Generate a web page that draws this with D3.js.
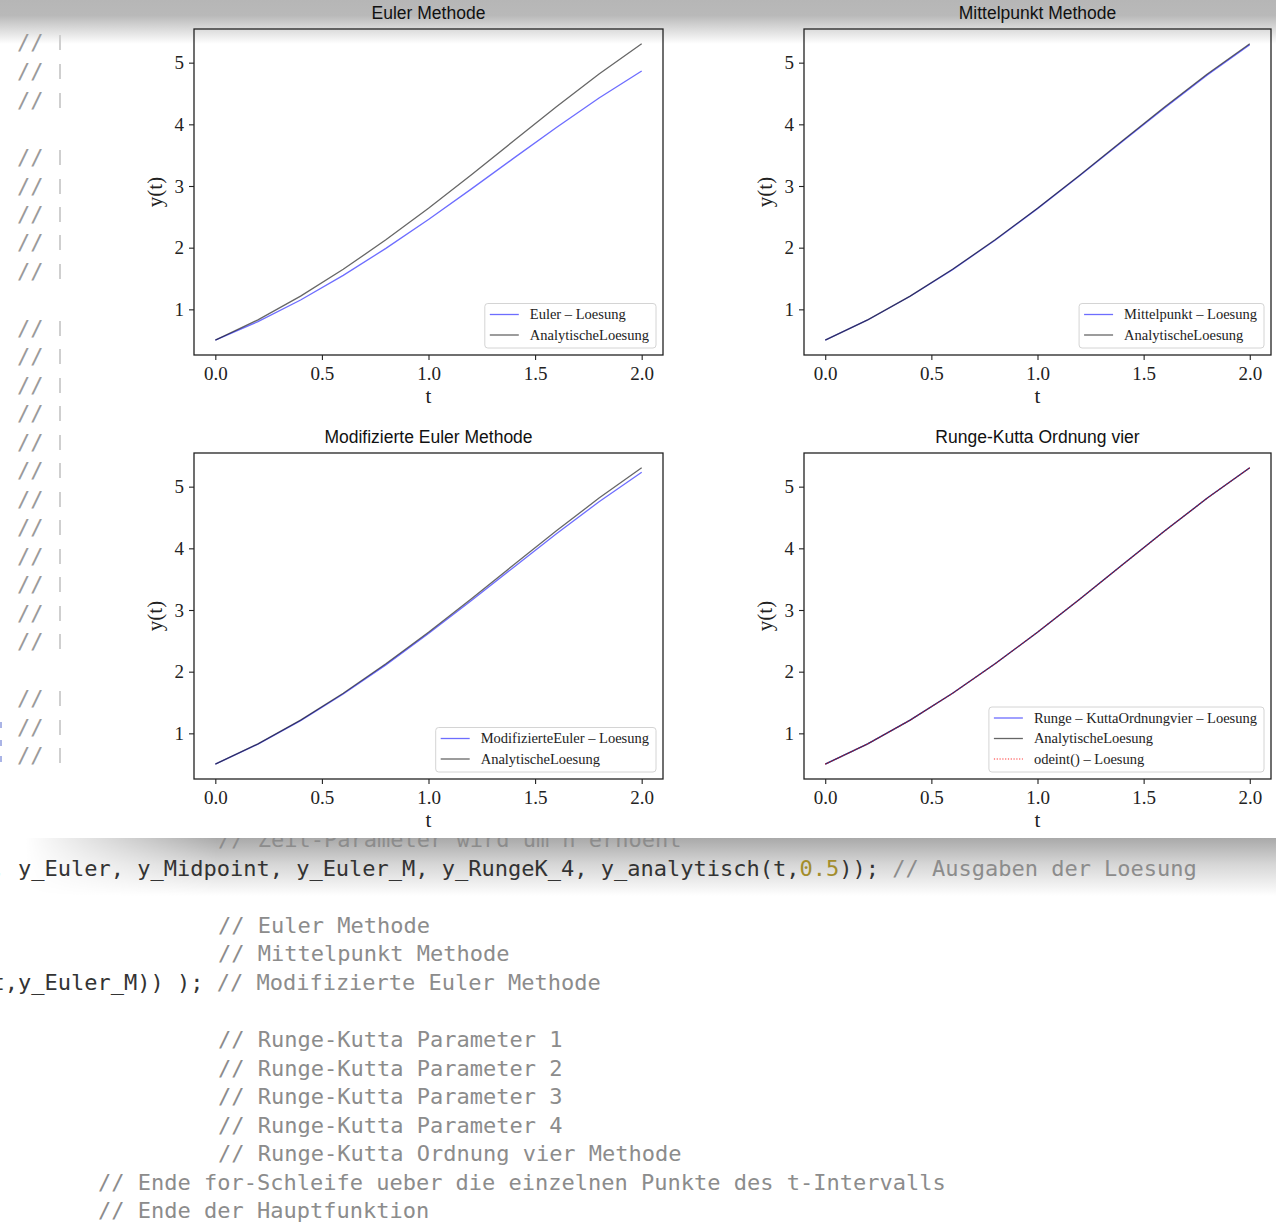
<!DOCTYPE html>
<html>
<head>
<meta charset="utf-8">
<script src="https://cdn.jsdelivr.net/npm/d3@7"></script>
<style>
  html, body { margin: 0; padding: 0; background: #fff; }
  svg { display: block; }
</style>
</head>
<body>
<svg id="chart" width="1276" height="1225"></svg>
<script>
// ---------------- data ----------------
const tValues   = [0.0, 0.2, 0.4, 0.6, 0.8, 1.0, 1.2, 1.4, 1.6, 1.8, 2.0];
const yAnalytic = [0.5, 0.8293, 1.2141, 1.6489, 2.1272, 2.6409, 3.1799, 3.7324, 4.2835, 4.8152, 5.3055];
const yEuler    = [0.5, 0.8000, 1.1520, 1.5504, 1.9885, 2.4582, 2.9498, 3.4518, 3.9501, 4.4282, 4.8658];
const yMidpoint = [0.5, 0.8280, 1.2114, 1.6447, 2.1213, 2.6332, 3.1705, 3.7212, 4.2706, 4.8010, 5.2904];
const yEulerM   = [0.5, 0.8260, 1.2069, 1.6372, 2.1102, 2.6177, 3.1496, 3.6937, 4.2351, 4.7556, 5.2331];
const yRK4      = [0.5, 0.8293, 1.2141, 1.6489, 2.1272, 2.6408, 3.1799, 3.7323, 4.2834, 4.8151, 5.3054];
const yOdeint   = [0.5, 0.8293, 1.2141, 1.6489, 2.1272, 2.6409, 3.1799, 3.7324, 4.2835, 4.8152, 5.3055];

const panelTitles = ["Euler Methode", "Mittelpunkt Methode", "Modifizierte Euler Methode", "Runge-Kutta Ordnung vier"];
const xTickValues = [0.0, 0.5, 1.0, 1.5, 2.0];
const yTickValues = [1, 2, 3, 4, 5];
const xLabel = "t";
const yLabel = "y(t)";

const legendEuler = ["Euler – Loesung", "AnalytischeLoesung"];
const legendMid   = ["Mittelpunkt – Loesung", "AnalytischeLoesung"];
const legendModE  = ["ModifizierteEuler – Loesung", "AnalytischeLoesung"];
const legendRK4   = ["Runge – KuttaOrdnungvier – Loesung", "AnalytischeLoesung", "odeint() – Loesung"];

// code editor text in background
const codeLeftRows = [42, 71, 100, 157, 186, 214, 242, 271, 328, 356, 385, 413, 442, 470, 499, 527, 556, 584, 613, 641, 698, 727, 755];
const codeLines = [
  {c: 839.5, x: 218, parts: [["cm", "// Zeit-Parameter wird um h erhoeht"]], clip: true},
  {c: 868, x: -8.5, parts: [["cd", ", y_Euler, y_Midpoint, y_Euler_M, y_RungeK_4, y_analytisch(t,"], ["nm", "0.5"], ["cd", "));"], ["cm", " // Ausgaben der Loesung"]]},
  {c: 925, x: 218, parts: [["cm", "// Euler Methode"]]},
  {c: 953, x: 218, parts: [["cm", "// Mittelpunkt Methode"]]},
  {c: 982, x: -8.5, parts: [["cd", "t,y_Euler_M)) ); "], ["cm", "// Modifizierte Euler Methode"]]},
  {c: 1039, x: 218, parts: [["cm", "// Runge-Kutta Parameter 1"]]},
  {c: 1068, x: 218, parts: [["cm", "// Runge-Kutta Parameter 2"]]},
  {c: 1096, x: 218, parts: [["cm", "// Runge-Kutta Parameter 3"]]},
  {c: 1125, x: 218, parts: [["cm", "// Runge-Kutta Parameter 4"]]},
  {c: 1153, x: 218, parts: [["cm", "// Runge-Kutta Ordnung vier Methode"]]},
  {c: 1182, x: 98, parts: [["cm", "// Ende for-Schleife ueber die einzelnen Punkte des t-Intervalls"]]},
  {c: 1210, x: 98, parts: [["cm", "// Ende der Hauptfunktion"]]}
];

// ---------------- drawing ----------------
const svg = d3.select("#chart");
const defs = svg.append("defs");

// top shadow band
const gTop = defs.append("linearGradient").attr("id", "gTop").attr("x1", 0).attr("x2", 0).attr("y1", 0).attr("y2", 1);
gTop.append("stop").attr("offset", 0).attr("stop-color", "#b6b6b6");
gTop.append("stop").attr("offset", 0.35).attr("stop-color", "#b9b9b9");
gTop.append("stop").attr("offset", 1).attr("stop-color", "#ffffff");
svg.append("rect").attr("x", 0).attr("y", 0).attr("width", 1276).attr("height", 44).attr("fill", "url(#gTop)");

// bottom shadow (below figure window)
const gBot = defs.append("linearGradient").attr("id", "gBot").attr("x1", 0).attr("x2", 0).attr("y1", 0).attr("y2", 1);
gBot.append("stop").attr("offset", 0).attr("stop-color", "#a9a9a9");
gBot.append("stop").attr("offset", 0.45).attr("stop-color", "#d6d6d6");
gBot.append("stop").attr("offset", 1).attr("stop-color", "#ffffff");
const gMaskH = defs.append("linearGradient").attr("id", "gMaskH").attr("x1", 0).attr("x2", 1).attr("y1", 0).attr("y2", 0);
gMaskH.append("stop").attr("offset", 0.02).attr("stop-color", "#000");
gMaskH.append("stop").attr("offset", 0.17).attr("stop-color", "#fff");
gMaskH.append("stop").attr("offset", 1).attr("stop-color", "#fff");
const mask = defs.append("mask").attr("id", "mBot").attr("maskUnits", "userSpaceOnUse")
  .attr("x", 0).attr("y", 838).attr("width", 1276).attr("height", 60);
mask.append("rect").attr("x", 0).attr("y", 838).attr("width", 1276).attr("height", 60).attr("fill", "url(#gMaskH)");
svg.append("rect").attr("x", 0).attr("y", 838).attr("width", 1276).attr("height", 58)
  .attr("fill", "url(#gBot)").attr("mask", "url(#mBot)");

defs.append("clipPath").attr("id", "clipBelow").append("rect")
  .attr("x", 0).attr("y", 838).attr("width", 1276).attr("height", 400);

// code text
const monoFont = "'DejaVu Sans Mono', 'Liberation Mono', monospace";
const colors = {cd: "#333333", cm: "#8c8c8c", nm: "#a38d2c"};
const codeG = svg.append("g").attr("font-family", monoFont).attr("font-size", 22);
codeLines.forEach(l => {
  const t = codeG.append("text").attr("x", l.x).attr("y", l.c + 7.5).attr("xml:space", "preserve").style("white-space", "pre");
  if (l.clip) t.attr("clip-path", "url(#clipBelow)");
  l.parts.forEach(p => t.append("tspan").attr("fill", colors[p[0]]).text(p[1]));
});
// left code column
const leftG = svg.append("g");
codeLeftRows.forEach(r => {
  leftG.append("text").attr("x", 17).attr("y", r + 7.5).attr("font-family", monoFont).attr("font-size", 22)
    .attr("fill", "#9a9a9a").text("//");
  leftG.append("rect").attr("x", 59).attr("y", r - 7).attr("width", 2).attr("height", 15).attr("fill", "#cfcfcf");
});
[722, 740, 756].forEach(r => leftG.append("rect").attr("x", 0).attr("y", r).attr("width", 2).attr("height", 6).attr("fill", "#aab4e6"));

// panels
const serif = "'Liberation Serif', 'DejaVu Serif', serif";
const sans = "'Liberation Sans', Arial, sans-serif";

const panels = [
  {title: panelTitles[0], left: 194, right: 663, top: 29, bottom: 355,
   series: [{y: yEuler, label: legendEuler[0], color: "#2f2fff", op: 0.7},
            {y: yAnalytic, label: legendEuler[1], color: "#000", op: 0.6}]},
  {title: panelTitles[1], left: 804, right: 1271, top: 29, bottom: 355,
   series: [{y: yMidpoint, label: legendMid[0], color: "#2f2fff", op: 0.7},
            {y: yAnalytic, label: legendMid[1], color: "#000", op: 0.6}]},
  {title: panelTitles[2], left: 194, right: 663, top: 453, bottom: 779,
   series: [{y: yEulerM, label: legendModE[0], color: "#2f2fff", op: 0.7},
            {y: yAnalytic, label: legendModE[1], color: "#000", op: 0.6}]},
  {title: panelTitles[3], left: 804, right: 1271, top: 453, bottom: 779,
   series: [{y: yRK4, label: legendRK4[0], color: "#2f2fff", op: 0.7},
            {y: yAnalytic, label: legendRK4[1], color: "#000", op: 0.6},
            {y: yOdeint, label: legendRK4[2], color: "#ff0000", op: 0.55, dash: "1.2,1.6"}]}
];

panels.forEach(p => {
  const g = svg.append("g");
  const x = d3.scale ? null : null;
  const xs = d3.scaleLinear().domain([-0.1, 2.1]).range([p.left, p.right]);
  const allY = p.series.flatMap(s => s.y);
  const [mn, mx] = d3.extent(allY);
  const pad = (mx - mn) * 0.05;
  const ys = d3.scaleLinear().domain([mn - pad, mx + pad]).range([p.bottom, p.top]);

  // lines
  const line = d3.line().x((d, i) => xs(tValues[i])).y(d => ys(d));
  p.series.forEach(s => {
    g.append("path").datum(s.y).attr("d", line).attr("fill", "none")
      .attr("stroke", s.color).attr("stroke-opacity", s.op).attr("stroke-width", 1.3)
      .attr("stroke-dasharray", s.dash || null);
  });

  // axes
  const xAxis = d3.axisBottom(xs).tickValues(xTickValues).tickFormat(d3.format(".1f")).tickSize(5).tickPadding(4);
  const yAxis = d3.axisLeft(ys).tickValues(yTickValues).tickFormat(d3.format("d")).tickSize(5).tickPadding(5);
  const gx = g.append("g").attr("transform", `translate(0,${p.bottom})`).call(xAxis);
  const gy = g.append("g").attr("transform", `translate(${p.left},0)`).call(yAxis);
  [gx, gy].forEach(a => {
    a.select(".domain").remove();
    a.selectAll(".tick line").attr("stroke", "#222").attr("stroke-width", 1.1);
    a.selectAll(".tick text").attr("font-family", serif).attr("font-size", 19).attr("fill", "#222");
  });
  gx.selectAll(".tick text").attr("dy", "0.85em");

  // frame
  g.append("rect").attr("x", p.left).attr("y", p.top).attr("width", p.right - p.left).attr("height", p.bottom - p.top)
    .attr("fill", "none").attr("stroke", "#222").attr("stroke-width", 1.3);

  // title & labels
  const cx = (p.left + p.right) / 2;
  g.append("text").attr("x", cx).attr("y", p.top - 10).attr("text-anchor", "middle")
    .attr("font-family", sans).attr("font-size", 17.5).attr("fill", "#111").text(p.title);
  g.append("text").attr("x", cx).attr("y", p.bottom + 48).attr("text-anchor", "middle")
    .attr("font-family", serif).attr("font-size", 21).attr("fill", "#222").text(xLabel);
  g.append("text").attr("transform", `translate(${p.left - 32},${(p.top + p.bottom) / 2}) rotate(-90)`)
    .attr("text-anchor", "middle").attr("font-family", serif).attr("font-size", 21).attr("fill", "#222").text(yLabel);

  // legend (lower right)
  const n = p.series.length;
  const lg = g.append("g");
  const box = lg.append("rect");
  const texts = p.series.map((s, i) => lg.append("text").attr("font-family", serif).attr("font-size", 14.5)
    .attr("fill", "#222").text(s.label));
  const maxW = d3.max(texts, t => t.node().getComputedTextLength());
  const w = 5 + 29 + 11 + maxW + 7;
  const h = 11 + (n - 1) * 20.5 + 13;
  const bx = p.right - 7 - w, by = p.bottom - 7 - h;
  box.attr("x", bx).attr("y", by).attr("width", w).attr("height", h).attr("rx", 3)
    .attr("fill", "#fff").attr("fill-opacity", 0.85).attr("stroke", "#d4d4d4").attr("stroke-width", 1);
  p.series.forEach((s, i) => {
    const ry = by + 11 + i * 20.5;
    lg.append("line").attr("x1", bx + 5).attr("x2", bx + 34).attr("y1", ry).attr("y2", ry)
      .attr("stroke", s.color).attr("stroke-opacity", s.op).attr("stroke-width", 1.3)
      .attr("stroke-dasharray", s.dash || null);
    texts[i].attr("x", bx + 45).attr("y", ry + 4.5);
  });
});
</script>
</body>
</html>
